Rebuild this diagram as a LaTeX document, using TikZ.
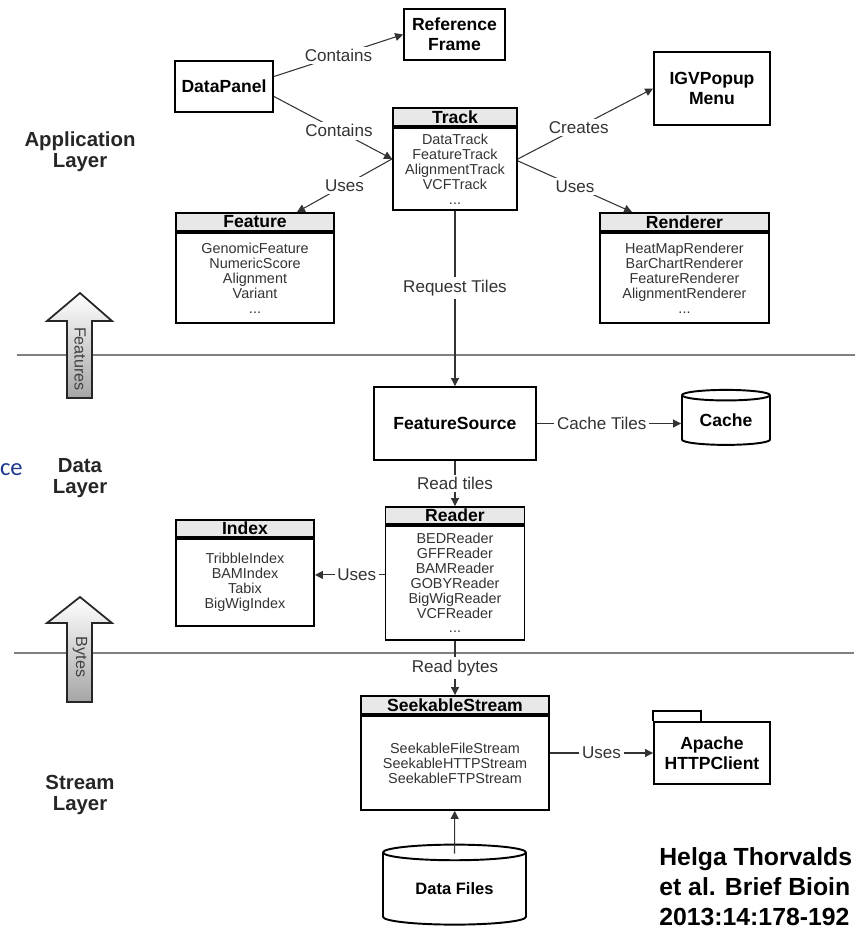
\documentclass[tikz,border=0pt]{standalone}
\usepackage{fontspec}
\setmainfont{Liberation Sans}
\newfontfamily\bluefont{Carlito}
\definecolor{slideblue}{RGB}{31,56,140}
\usetikzlibrary{positioning,shapes.geometric,arrows.meta}

\begin{document}
\begin{tikzpicture}[x=0.02cm,y=-0.02cm,
  >={Triangle[length=4.5pt,width=4.5pt]},
  box/.style={draw,line width=1.1pt,align=center,inner sep=0pt,
    font=\fontsize{10}{11.5}\selectfont\bfseries},
  head/.style={box,fill=black!9,minimum height=0.36cm},
  body/.style={draw,line width=1.1pt,align=center,inner sep=0pt,text=black!80,
    font=\fontsize{8.2}{8.5}\selectfont},
  db/.style={box,cylinder,shape border rotate=90,aspect=0.2},
  link/.style={->,draw=black!80,line width=0.6pt},
  lbl/.style={fill=white,inner sep=1.5pt,text=black!80,font=\fontsize{9.7}{11}\selectfont},
  layer/.style={align=center,text=black!85,font=\fontsize{11.6}{11.9}\selectfont\bfseries},
  sep/.style={draw=black!50,line width=1.1pt},
  flow/.style={draw=black!85,line width=1pt,top color=white,bottom color=black!35}]
\useasboundingbox (0,0) rectangle (860,931);

\draw[sep] (17,355) -- (855,355);
\draw[sep] (14,653) -- (854,653);
\draw[flow] (67,398) -- (67,321) -- (47,321) -- (80,293) -- (112,321) -- (92,321) -- (92,398) -- cycle;
\node[rotate=-90,text=black!75,font=\fontsize{9.2}{10}\selectfont] (featflow) at (80,359) {Features};
\draw[flow] (67,702) -- (67,623) -- (47,623) -- (80,597) -- (112,623) -- (92,623) -- (92,702) -- cycle;
\node[rotate=-90,text=black!75,font=\fontsize{9.2}{10}\selectfont] (byteflow) at (80,657) {Bytes};

\node[layer] (applayer) at (80,152) {Application\\Layer};
\node[layer] (datalayer) at (80,478) {Data\\Layer};
\node[layer] (streamlayer) at (80,795) {Stream\\Layer};
\node[anchor=base east,inner sep=0pt,text=slideblue,font=\bluefont\fontsize{14}{16}\selectfont] (cutoff) at (23,475) {ce};

\node[box,minimum width=2.02cm,minimum height=1.02cm] (refframe) at (454.5,34.5) {Reference\\Frame};
\node[box,minimum width=1.96cm,minimum height=1.02cm] (datapanel) at (224,86.5) {DataPanel};
\node[head,minimum width=2.48cm] (trackh) at (455,117) {Track};
\node[body,minimum width=2.48cm,minimum height=1.64cm,below=0pt of trackh] (track) {DataTrack\\FeatureTrack\\AlignmentTrack\\VCFTrack\\...};
\node[box,minimum width=2.32cm,minimum height=1.46cm] (igvmenu) at (712,88.5) {IGVPopup\\Menu};
\node[head,minimum width=3.16cm] (featureh) at (255,222) {Feature};
\node[body,minimum width=3.16cm,minimum height=1.8cm,below=0pt of featureh] (feature) {GenomicFeature\\NumericScore\\Alignment\\Variant\\...};
\node[head,minimum width=3.38cm] (rendererh) at (684.5,222) {Renderer};
\node[body,minimum width=3.38cm,minimum height=1.8cm,below=0pt of rendererh] (renderer) {HeatMapRenderer\\BarChartRenderer\\FeatureRenderer\\AlignmentRenderer\\...};

\node[box,minimum width=3.24cm,minimum height=1.46cm] (fsource) at (455,423.5) {FeatureSource};
\node[db,minimum width=1.76cm,minimum height=1.1cm] (cache) at (726,420.5) {Cache};
\node[head,minimum width=2.78cm,minimum height=0.34cm] (readerh) at (455,515.5) {Reader};
\node[body,minimum width=2.78cm,minimum height=2.28cm,below=0pt of readerh] (reader) {BEDReader\\GFFReader\\BAMReader\\GOBYReader\\BigWigReader\\VCFReader\\...};
\node[head,minimum width=2.76cm,minimum height=0.34cm] (indexh) at (245,528.5) {Index};
\node[body,minimum width=2.76cm,minimum height=1.74cm,below=0pt of indexh] (index) {TribbleIndex\\BAMIndex\\Tabix\\BigWigIndex};

\node[head,minimum width=3.76cm] (seekh) at (455,705) {SeekableStream};
\node[body,minimum width=3.76cm,minimum height=1.88cm,below=0pt of seekh] (seek) {SeekableFileStream\\SeekableHTTPStream\\SeekableFTPStream};
\node[box,minimum width=2.32cm,minimum height=1.24cm] (apache) at (712,753) {Apache\\HTTPClient};
\draw[line width=1.1pt] (apache.north west) -- ++(0,-10) -- ++(48,0) -- ++(0,10);
\node[db,minimum width=2.86cm,minimum height=1.6cm,font=\fontsize{9.4}{11}\selectfont\bfseries] (datafiles) at (454.5,889) {Data Files};

\node[anchor=north west,align=left,inner sep=0pt,font=\fontsize{14.1}{17.2}\selectfont\bfseries] (citation) at (659,847) {Helga Thorvalds\\et al. Brief Bioin\\2013:14:178-192};

\draw[link] ([yshift=0.2cm]datapanel.east) -- (refframe.west) node[lbl,midway] {Contains};
\draw[link] ([yshift=-0.2cm]datapanel.east) -- ([yshift=0.2cm]track.west) node[lbl,pos=0.55] {Contains};
\draw[link] ([yshift=0.2cm]track.west) -- ([xshift=0.84cm]featureh.north) node[lbl,midway] {Uses};
\draw[link] ([yshift=0.2cm]track.east) -- (igvmenu.west) node[lbl,pos=0.45] {Creates};
\draw[link] ([yshift=0.16cm]track.east) -- ([xshift=-1.05cm]rendererh.north) node[lbl,midway] {Uses};
\draw[link] (track) -- (fsource) node[lbl,pos=0.44] {Request Tiles};
\draw[link] (fsource.east) -- (cache.west |- fsource.east) node[lbl,pos=0.45] {Cache Tiles};
\draw[link] (fsource) -- (readerh) node[lbl,midway] {Read tiles};
\draw[link] ([yshift=0.16cm]reader.west) -- ([yshift=0.16cm]reader.west -| index.east) node[lbl,pos=0.4] {Uses};
\draw[link] (reader) -- (seekh) node[lbl,midway] {Read bytes};
\draw[link] (seek.east |- apache.west) -- (apache.west) node[lbl,midway] {Uses};
\draw[link] ([yshift=-0.2cm]datafiles.north) -- (seek);
\end{tikzpicture}
\end{document}
